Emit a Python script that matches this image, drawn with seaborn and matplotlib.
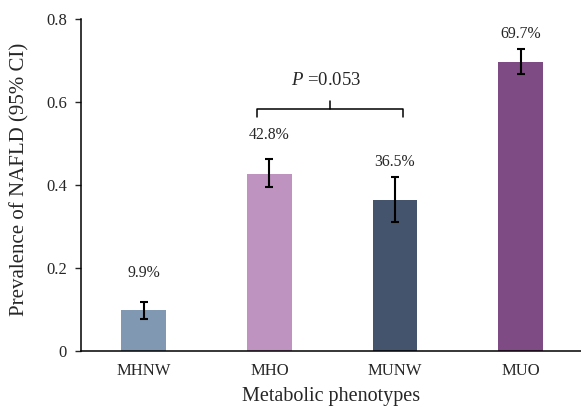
import matplotlib
matplotlib.use("Agg")
import matplotlib.pyplot as plt
import seaborn as sns
import pandas as pd

# data
phenotypes = ["MHNW", "MHO", "MUNW", "MUO"]
prevalence = [0.099, 0.428, 0.365, 0.697]
ci_low = [0.077, 0.395, 0.312, 0.668]
ci_high = [0.120, 0.462, 0.419, 0.728]
pct_labels = ["9.9%", "42.8%", "36.5%", "69.7%"]
bar_colors = ["#8198B2", "#BE93C0", "#44546C", "#7F4B84"]
p_value = "0.053"

sns.set_style("white")
plt.rcParams["font.family"] = ["Liberation Serif", "DejaVu Serif"]
plt.rcParams["mathtext.fontset"] = "custom"
plt.rcParams["mathtext.rm"] = "Liberation Serif"
plt.rcParams["mathtext.it"] = "Liberation Serif:italic"

df = pd.DataFrame({"phenotype": phenotypes, "prevalence": prevalence})

fig = plt.figure(figsize=(5.81, 4.09), dpi=100)
ax = fig.add_axes([0.1394, 0.1406, 0.8606, 0.8129])

sns.barplot(data=df, x="phenotype", y="prevalence", hue="phenotype",
            palette=bar_colors, width=0.358, errorbar=None, legend=False,
            saturation=1, linewidth=0, ax=ax)

xs = list(range(len(phenotypes)))
err_lo = [v - lo for v, lo in zip(prevalence, ci_low)]
err_hi = [hi - v for v, hi in zip(prevalence, ci_high)]
ax.errorbar(xs, prevalence, yerr=[err_lo, err_hi], fmt="none",
            ecolor="black", elinewidth=1.5, capsize=2.8, capthick=1.5)

# percentage labels (vertical positions taken from the figure)
label_y = [0.189, 0.520, 0.456, 0.763]
for x, ly, txt in zip(xs, label_y, pct_labels):
    ax.text(x, ly, txt, ha="center", va="center", fontsize=11.3)

# bracket between MHO and MUNW
bx0, bx1, bxc = 0.904, 2.066, 1.485
ax.plot([bx0, bx0, bx1, bx1], [0.565, 0.583, 0.583, 0.565], color="black", lw=1.1,
        solid_joinstyle="round")
ax.plot([bxc, bxc], [0.583, 0.603], color="black", lw=1.1)
ax.text(1.45, 0.651, r"$\mathit{P}$ =" + p_value, ha="center", va="center",
        fontsize=13.5)

ax.set_xlim(-0.5, 3.481)
ax.set_ylim(0, 0.8)
ax.set_yticks([0, 0.2, 0.4, 0.6, 0.8])
ax.set_yticklabels(["0", "0.2", "0.4", "0.6", "0.8"])
ax.tick_params(axis="y", direction="out", length=4, width=1, labelsize=12,
               left=True, pad=6)
ax.tick_params(axis="x", length=0, labelsize=12, pad=8)
ax.set_xlabel("Metabolic phenotypes", fontsize=14.5, labelpad=6)
ax.set_ylabel("Prevalence of NAFLD (95% CI)", fontsize=15)
ax.yaxis.set_label_coords(-0.104, 0.518)

sns.despine(ax=ax)
for s in ["left", "bottom"]:
    ax.spines[s].set_color("black")
    ax.spines[s].set_linewidth(1.1)

fig.savefig("out.png", dpi=100)
